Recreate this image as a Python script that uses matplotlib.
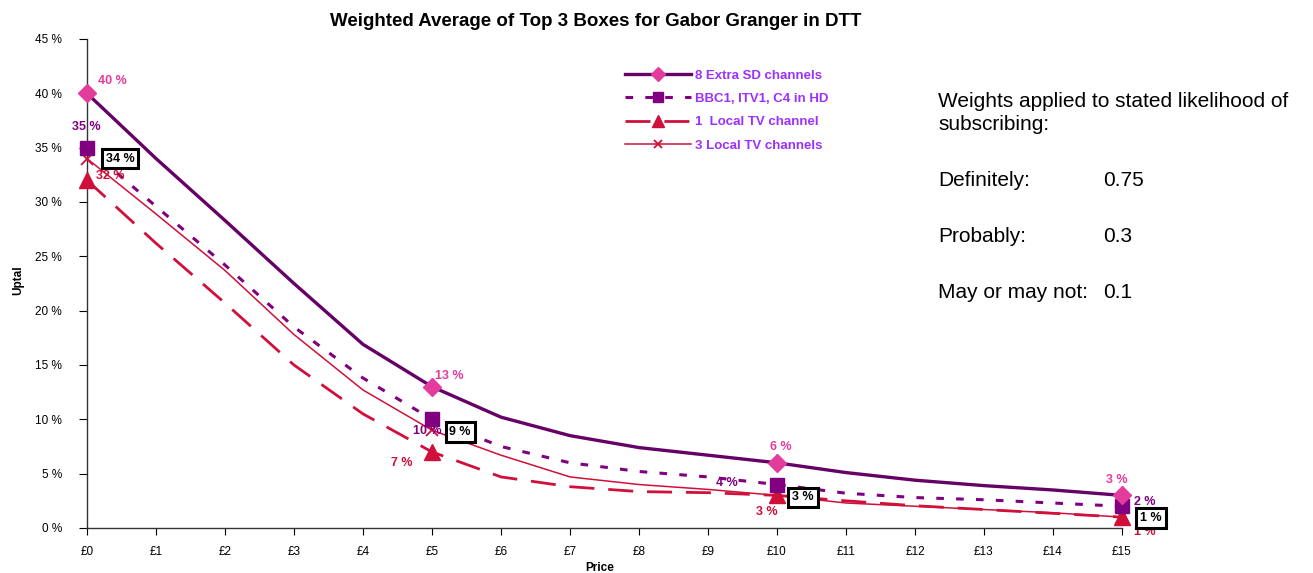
import matplotlib
matplotlib.use("Agg")
from matplotlib import pyplot as plt
import numpy as np

plt.rcParams['font.family'] = ['Liberation Sans', 'DejaVu Sans']

# price points £0..£15
prices = list(range(16))
price_labels = ['£%d' % p for p in prices]

# weighted uptake (%)
extra_sd = [40, 34, 28.3, 22.5, 16.9, 13, 10.2, 8.5, 7.4, 6.7, 6, 5.1, 4.4, 3.9, 3.5, 3]
bbc_hd = [35, 29.6, 24.2, 18.5, 13.8, 10, 7.5, 6.0, 5.2, 4.7, 4, 3.2, 2.8, 2.6, 2.3, 2]
local_1 = [32, 26.2, 20.7, 15.0, 10.5, 7, 4.7, 3.8, 3.35, 3.25, 3, 2.5, 2.05, 1.7, 1.35, 1]
local_3 = [34, 28.9, 23.7, 17.8, 12.7, 9, 6.7, 4.7, 4.0, 3.55, 3, 2.3, 2.0, 1.7, 1.4, 1]

series_names = ['8 Extra SD channels', 'BBC1, ITV1, C4 in HD',
                '1  Local TV channel', '3 Local TV channels']

weights_text = ['Definitely:', 'Probably:', 'May or may not:']
weights = ['0.75', '0.3', '0.1']

marked = [0, 5, 10, 15]

PINK = '#e23c9c'
PURPLE = '#800080'
DARKPURPLE = '#660066'
RED = '#d0103a'
LEGTXT = '#9b30ff'

fig = plt.figure(figsize=(13.13, 5.73), dpi=100)
ax = fig.add_axes([87/1313, 1-528/573, (1122-87)/1313, (528-39)/573])

x = np.array(prices)
ax.plot(x, np.array(extra_sd)/100, color=DARKPURPLE, lw=2.4, marker='D', markevery=marked,
        ms=9, mfc=PINK, mec=PINK, label=series_names[0], zorder=5, clip_on=False)
ax.plot(x, np.array(bbc_hd)/100, color=PURPLE, lw=2.2, ls=(0, (2.5, 4)), marker='s', markevery=marked,
        ms=10, mfc=PURPLE, mec=PURPLE, label=series_names[1], zorder=4, clip_on=False)
ax.plot(x, np.array(local_1)/100, color=RED, lw=2.0, ls=(0, (9, 5)), marker='^', markevery=marked,
        ms=11, mfc=RED, mec=RED, label=series_names[2], zorder=3, clip_on=False)
ax.plot(x, np.array(local_3)/100, color=RED, lw=1.1, marker='x', markevery=marked,
        ms=8, mew=1.3, mfc=RED, mec=RED, label=series_names[3], zorder=3, clip_on=False)

ax.set_xlim(0, 15)
ax.set_ylim(0, 0.45)
ax.set_xticks(prices)
ax.set_xticklabels(price_labels, fontsize=8.5)
yt = np.arange(0, 0.451, 0.05)
ax.set_yticks(yt)
ax.set_yticklabels(['%d %%' % round(v*100) for v in yt], fontsize=8.5)
ax.tick_params(axis='y', length=6, pad=12)
ax.tick_params(axis='x', length=5, pad=8)
for s in ['top', 'right']:
    ax.spines[s].set_visible(False)
for s in ['left', 'bottom']:
    ax.spines[s].set_color('#333333')
    ax.spines[s].set_linewidth(1.0)

fig.text(600/1313, 1-568/573, 'Price', fontsize=8.5, fontweight='bold', ha='center', va='center')
fig.text(18/1313, 1-280/573, 'Uptal', rotation=90, fontsize=8.5, fontweight='bold',
         ha='center', va='center')
fig.text(596/1313, 1-22/573, 'Weighted Average of Top 3 Boxes for Gabor Granger in DTT',
         fontsize=13.5, fontweight='bold', ha='center', va='center')

# data labels: (series, index, colour, offset px, boxed)
def lab(vals, i, color, dx, dy, boxed=False):
    txt = '%d %%' % round(vals[i])
    kw = dict(textcoords='offset pixels', ha='center', va='center',
              fontsize=9, fontweight='bold', color=color, zorder=8)
    if boxed:
        kw['bbox'] = dict(boxstyle='square,pad=0.3', fc='white', ec='black', lw=2.2)
        kw['zorder'] = 9
    ax.annotate(txt, (prices[i], vals[i]/100), xytext=(dx, dy), annotation_clip=False, **kw)

lab(extra_sd, 0, PINK, 25, 12)
lab(bbc_hd, 0, PURPLE, -1, 21)
lab(local_3, 0, 'black', 33, 0, True)
lab(local_1, 0, RED, 23, 4)
lab(extra_sd, 5, PINK, 17, 11)
lab(bbc_hd, 5, PURPLE, -5, -12)
lab(local_3, 5, 'black', 28, -2, True)
lab(local_1, 5, RED, -30, -11)
lab(extra_sd, 10, PINK, 4, 16)
lab(bbc_hd, 10, PURPLE, -50, 2)
lab(local_3, 10, 'black', 26, -2, True)
lab(local_1, 10, RED, -10, -17)
lab(extra_sd, 15, PINK, -5, 15)
lab(bbc_hd, 15, PURPLE, 23, 4)
lab(local_1, 15, RED, 23, -15)
lab(local_3, 15, 'black', 29, -1, True)

leg = ax.legend(loc='upper left', bbox_to_anchor=(620/1313, 1-64/573), bbox_transform=fig.transFigure,
                frameon=False, fontsize=9.5, handlelength=5.0, handletextpad=0.3,
                labelspacing=0.85, borderaxespad=0, markerscale=0.75)
for t in leg.get_texts():
    t.set_color(LEGTXT)
    t.set_fontweight('bold')

fig.text(938/1313, 1-113/573, 'Weights applied to stated likelihood of\nsubscribing:',
         fontsize=15, ha='left', va='center', linespacing=1.3)
ys = [181, 237, 293]
for lbl, w, yy in zip(weights_text, weights, ys):
    fig.text(938/1313, 1-yy/573, lbl, fontsize=15, ha='left', va='center')
    fig.text(1103/1313, 1-yy/573, w, fontsize=15, ha='left', va='center')

fig.savefig('out.png', dpi=100)
